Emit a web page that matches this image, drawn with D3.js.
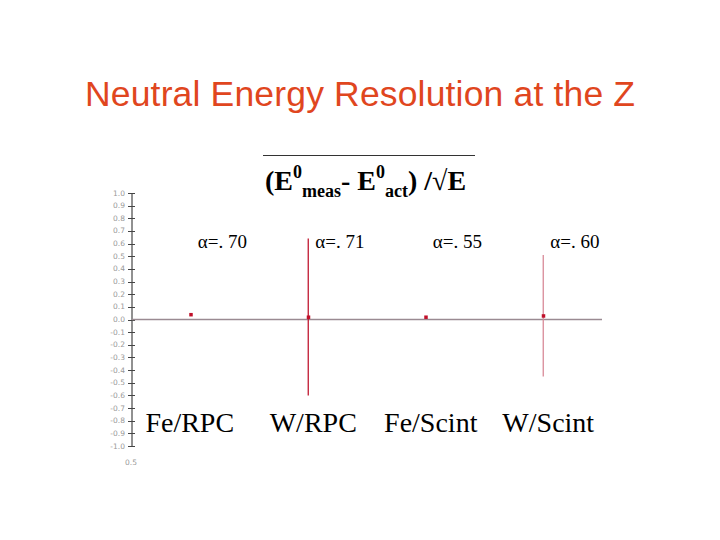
<!DOCTYPE html>
<html><head><meta charset="utf-8">
<script src="https://cdn.jsdelivr.net/npm/d3@7"></script>
<style>html,body{margin:0;padding:0;background:#fff;}</style>
</head><body>
<svg id="c" width="720" height="540"></svg>
<script>
const categories = ["Fe/RPC", "W/RPC", "Fe/Scint", "W/Scint"];
const alphas = ["α=. 70", "α=. 71", "α=. 55", "α=. 60"];
const values = [0.04, 0.02, 0.02, 0.03];
const errors = [0, 0.62, 0, 0.48];
const yTicks = [1.0,0.9,0.8,0.7,0.6,0.5,0.4,0.3,0.2,0.1,0.0,-0.1,-0.2,-0.3,-0.4,-0.5,-0.6,-0.7,-0.8,-0.9,-1.0];
const xStartLabel = "0.5";

const svg = d3.select("#c");
const x = d3.scaleLinear().domain([0.5, 4.5]).range([132, 602]);
const y = d3.scaleLinear().domain([-1, 1]).range([446, 193]);

// title
svg.append("text").attr("x", 360).attr("y", 106).attr("text-anchor", "middle")
  .attr("font-family", "Liberation Sans, Arial, sans-serif").attr("font-size", 35.5)
  .attr("textLength", 550).attr("fill", "#e0461e").text("Neutral Energy Resolution at the Z");

// formula
svg.append("line").attr("x1", 263).attr("x2", 475).attr("y1", 155.5).attr("y2", 155.5)
  .attr("stroke", "#333").attr("stroke-width", 1);
const f = svg.append("text").attr("x", 265).attr("y", 190)
  .attr("font-family", "Liberation Serif, Times New Roman, serif").attr("font-weight", "bold")
  .attr("font-size", 28).attr("fill", "#000");
f.append("tspan").text("(E");
f.append("tspan").attr("font-size", 18).attr("dy", -12).text("0");
f.append("tspan").attr("font-size", 18).attr("dy", 19).text("meas");
f.append("tspan").attr("dy", -7).text("- E");
f.append("tspan").attr("font-size", 18).attr("dy", -12).text("0");
f.append("tspan").attr("font-size", 18).attr("dy", 19).text("act");
f.append("tspan").attr("dy", -7).text(") /√E");

// y axis
const ax = svg.append("g").attr("transform", `translate(${x(0.5)},0)`);
ax.append("line").attr("x1", 0).attr("x2", 0).attr("y1", y(1)).attr("y2", y(-1)).attr("stroke", "#222").attr("stroke-width", 1);
yTicks.forEach(t => {
  ax.append("line").attr("x1", -4).attr("x2", 3).attr("y1", Math.round(y(t)) + 0.5).attr("y2", Math.round(y(t)) + 0.5)
    .attr("stroke", "#444").attr("stroke-width", 1);
  ax.append("text").attr("x", -7).attr("y", y(t) + 2.5).attr("text-anchor", "end")
    .attr("font-family", "DejaVu Sans, sans-serif").attr("font-size", 7.5).attr("fill", "#999")
    .text(t.toFixed(1));
});
svg.append("text").attr("x", x(0.5) - 1).attr("y", 465).attr("text-anchor", "middle")
  .attr("font-family", "DejaVu Sans, sans-serif").attr("font-size", 7.5).attr("fill", "#999").text(xStartLabel);

// zero line
svg.append("line").attr("x1", x(0.5)).attr("x2", x(4.5)).attr("y1", Math.round(y(0)) - 0.5).attr("y2", Math.round(y(0)) - 0.5)
  .attr("stroke", "#9a8a92").attr("stroke-width", 1.3);

// error bars
const errColors = ["#c01830", "#c01830", "#c01830", "#d88a98"];
values.forEach((v, i) => {
  if (errors[i] > 0) {
    svg.append("line").attr("x1", x(i + 1)).attr("x2", x(i + 1))
      .attr("y1", y(v + errors[i])).attr("y2", y(v - errors[i]))
      .attr("stroke", errColors[i]).attr("stroke-width", 1.3);
  }
});
// points
svg.selectAll("rect.pt").data(values).join("rect").attr("class", "pt")
  .attr("x", (d, i) => x(i + 1) - 1.5).attr("y", d => y(d) - 1.5)
  .attr("width", 3.5).attr("height", 3.5).attr("fill", "#c0102a");

// alpha labels
svg.selectAll("text.al").data(alphas).join("text").attr("class", "al")
  .attr("x", (d, i) => x(i + 1) + 7).attr("y", 248)
  .attr("font-family", "Liberation Serif, Times New Roman, serif").attr("font-size", 19)
  .attr("fill", "#000").text(d => d);

// category labels
svg.selectAll("text.cat").data(categories).join("text").attr("class", "cat")
  .attr("x", (d, i) => x(i + 1) + (i === 0 ? -1 : 5)).attr("y", 432).attr("text-anchor", "middle")
  .attr("font-family", "Liberation Serif, Times New Roman, serif").attr("font-size", 28)
  .attr("fill", "#000").text(d => d);
</script>
</body></html>
